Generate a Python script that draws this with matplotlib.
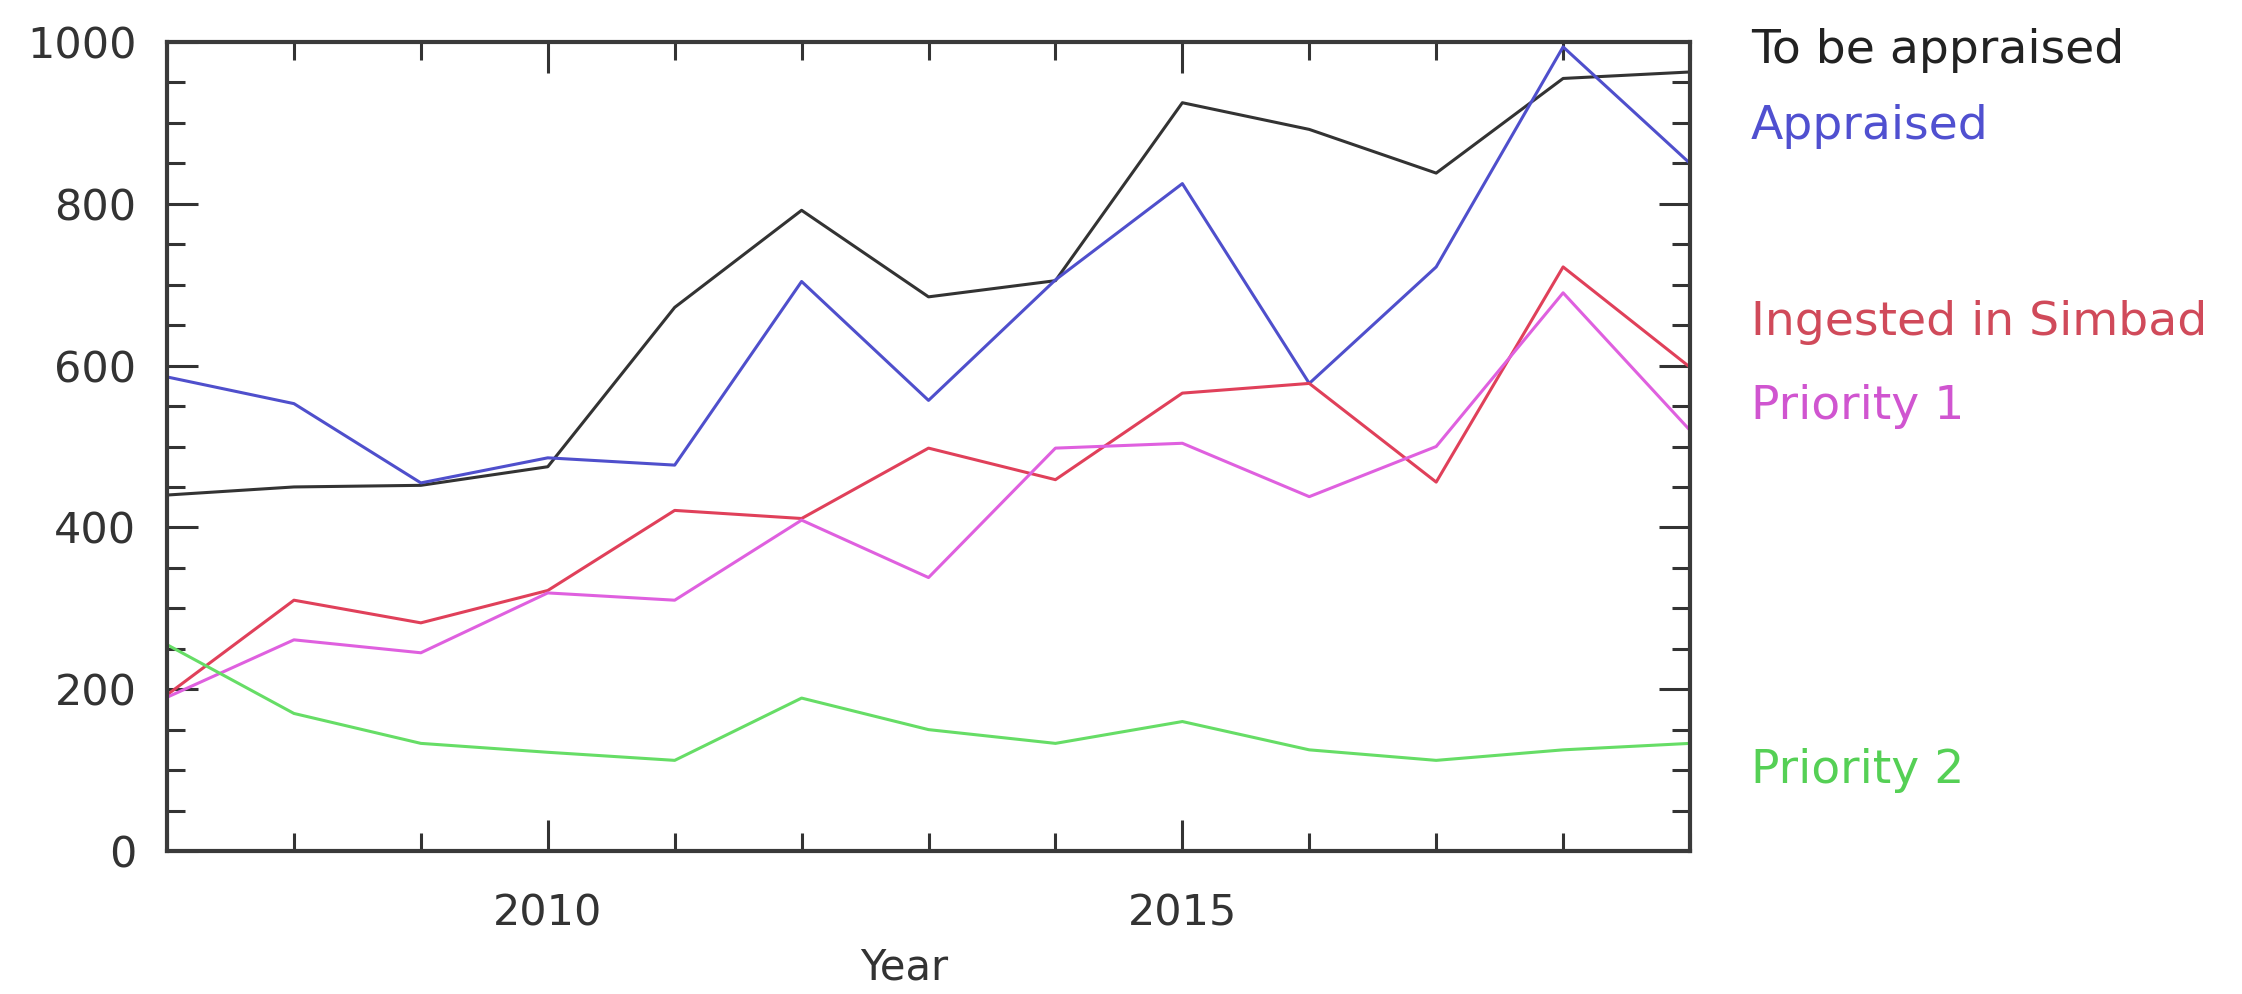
import matplotlib.pyplot as plt
from matplotlib.ticker import MultipleLocator

years = list(range(2007, 2020))

to_be_appraised = [440, 450, 452, 475, 672, 792, 685, 705, 925, 892, 838, 955, 963]
appraised = [586, 553, 455, 486, 477, 704, 557, 706, 825, 578, 722, 994, 850]
ingested = [193, 310, 282, 322, 421, 411, 498, 459, 566, 578, 456, 722, 598]
priority1 = [190, 261, 245, 319, 310, 409, 338, 498, 504, 438, 500, 690, 520]
priority2 = [255, 170, 133, 122, 112, 189, 150, 133, 160, 125, 112, 125, 133]

series_names = ["To be appraised", "Appraised", "Ingested in Simbad", "Priority 1", "Priority 2"]
series_data = [to_be_appraised, appraised, ingested, priority1, priority2]
line_colors = ["#333333", "#4f4fcc", "#e0405a", "#df60df", "#66dd66"]
text_colors = ["#222222", "#5050d0", "#d04a5a", "#d055d0", "#55d055"]
label_y = [990, 895, 653, 549, 100]

plt.rcParams['font.family'] = ['DejaVu Sans']

fig = plt.figure(figsize=(22.42, 9.94), dpi=100)
ax = fig.add_axes([0.0745, 0.1439, 0.6793, 0.8138])

for vals, col in zip(series_data, line_colors):
    ax.plot(years, vals, color=col, lw=2.2)

ax.set_xlim(2007, 2019)
ax.set_ylim(0, 1000)

ax.xaxis.set_major_locator(MultipleLocator(5))
ax.xaxis.set_minor_locator(MultipleLocator(1))
ax.yaxis.set_major_locator(MultipleLocator(200))
ax.yaxis.set_minor_locator(MultipleLocator(50))

ax.tick_params(which='both', direction='in', top=True, right=True,
               color='#333333', width=2.2)
ax.tick_params(which='major', length=22, labelsize=31, labelcolor='#333333')
ax.tick_params(which='minor', length=13)
ax.tick_params(axis='x', which='major', pad=30)
ax.tick_params(axis='y', which='major', pad=22)

for sp in ax.spines.values():
    sp.set_linewidth(3)
    sp.set_color('#3a3a3a')

ax.set_xlabel("Year", fontsize=30, color='#333333')
ax.xaxis.set_label_coords(0.484, -0.118)

for name, col, yv in zip(series_names, text_colors, label_y):
    ax.text(1.04, yv, name, color=col, fontsize=34, va='center', ha='left',
            transform=ax.get_yaxis_transform(), clip_on=False)

fig.savefig("out.png", dpi=100, facecolor='white')
